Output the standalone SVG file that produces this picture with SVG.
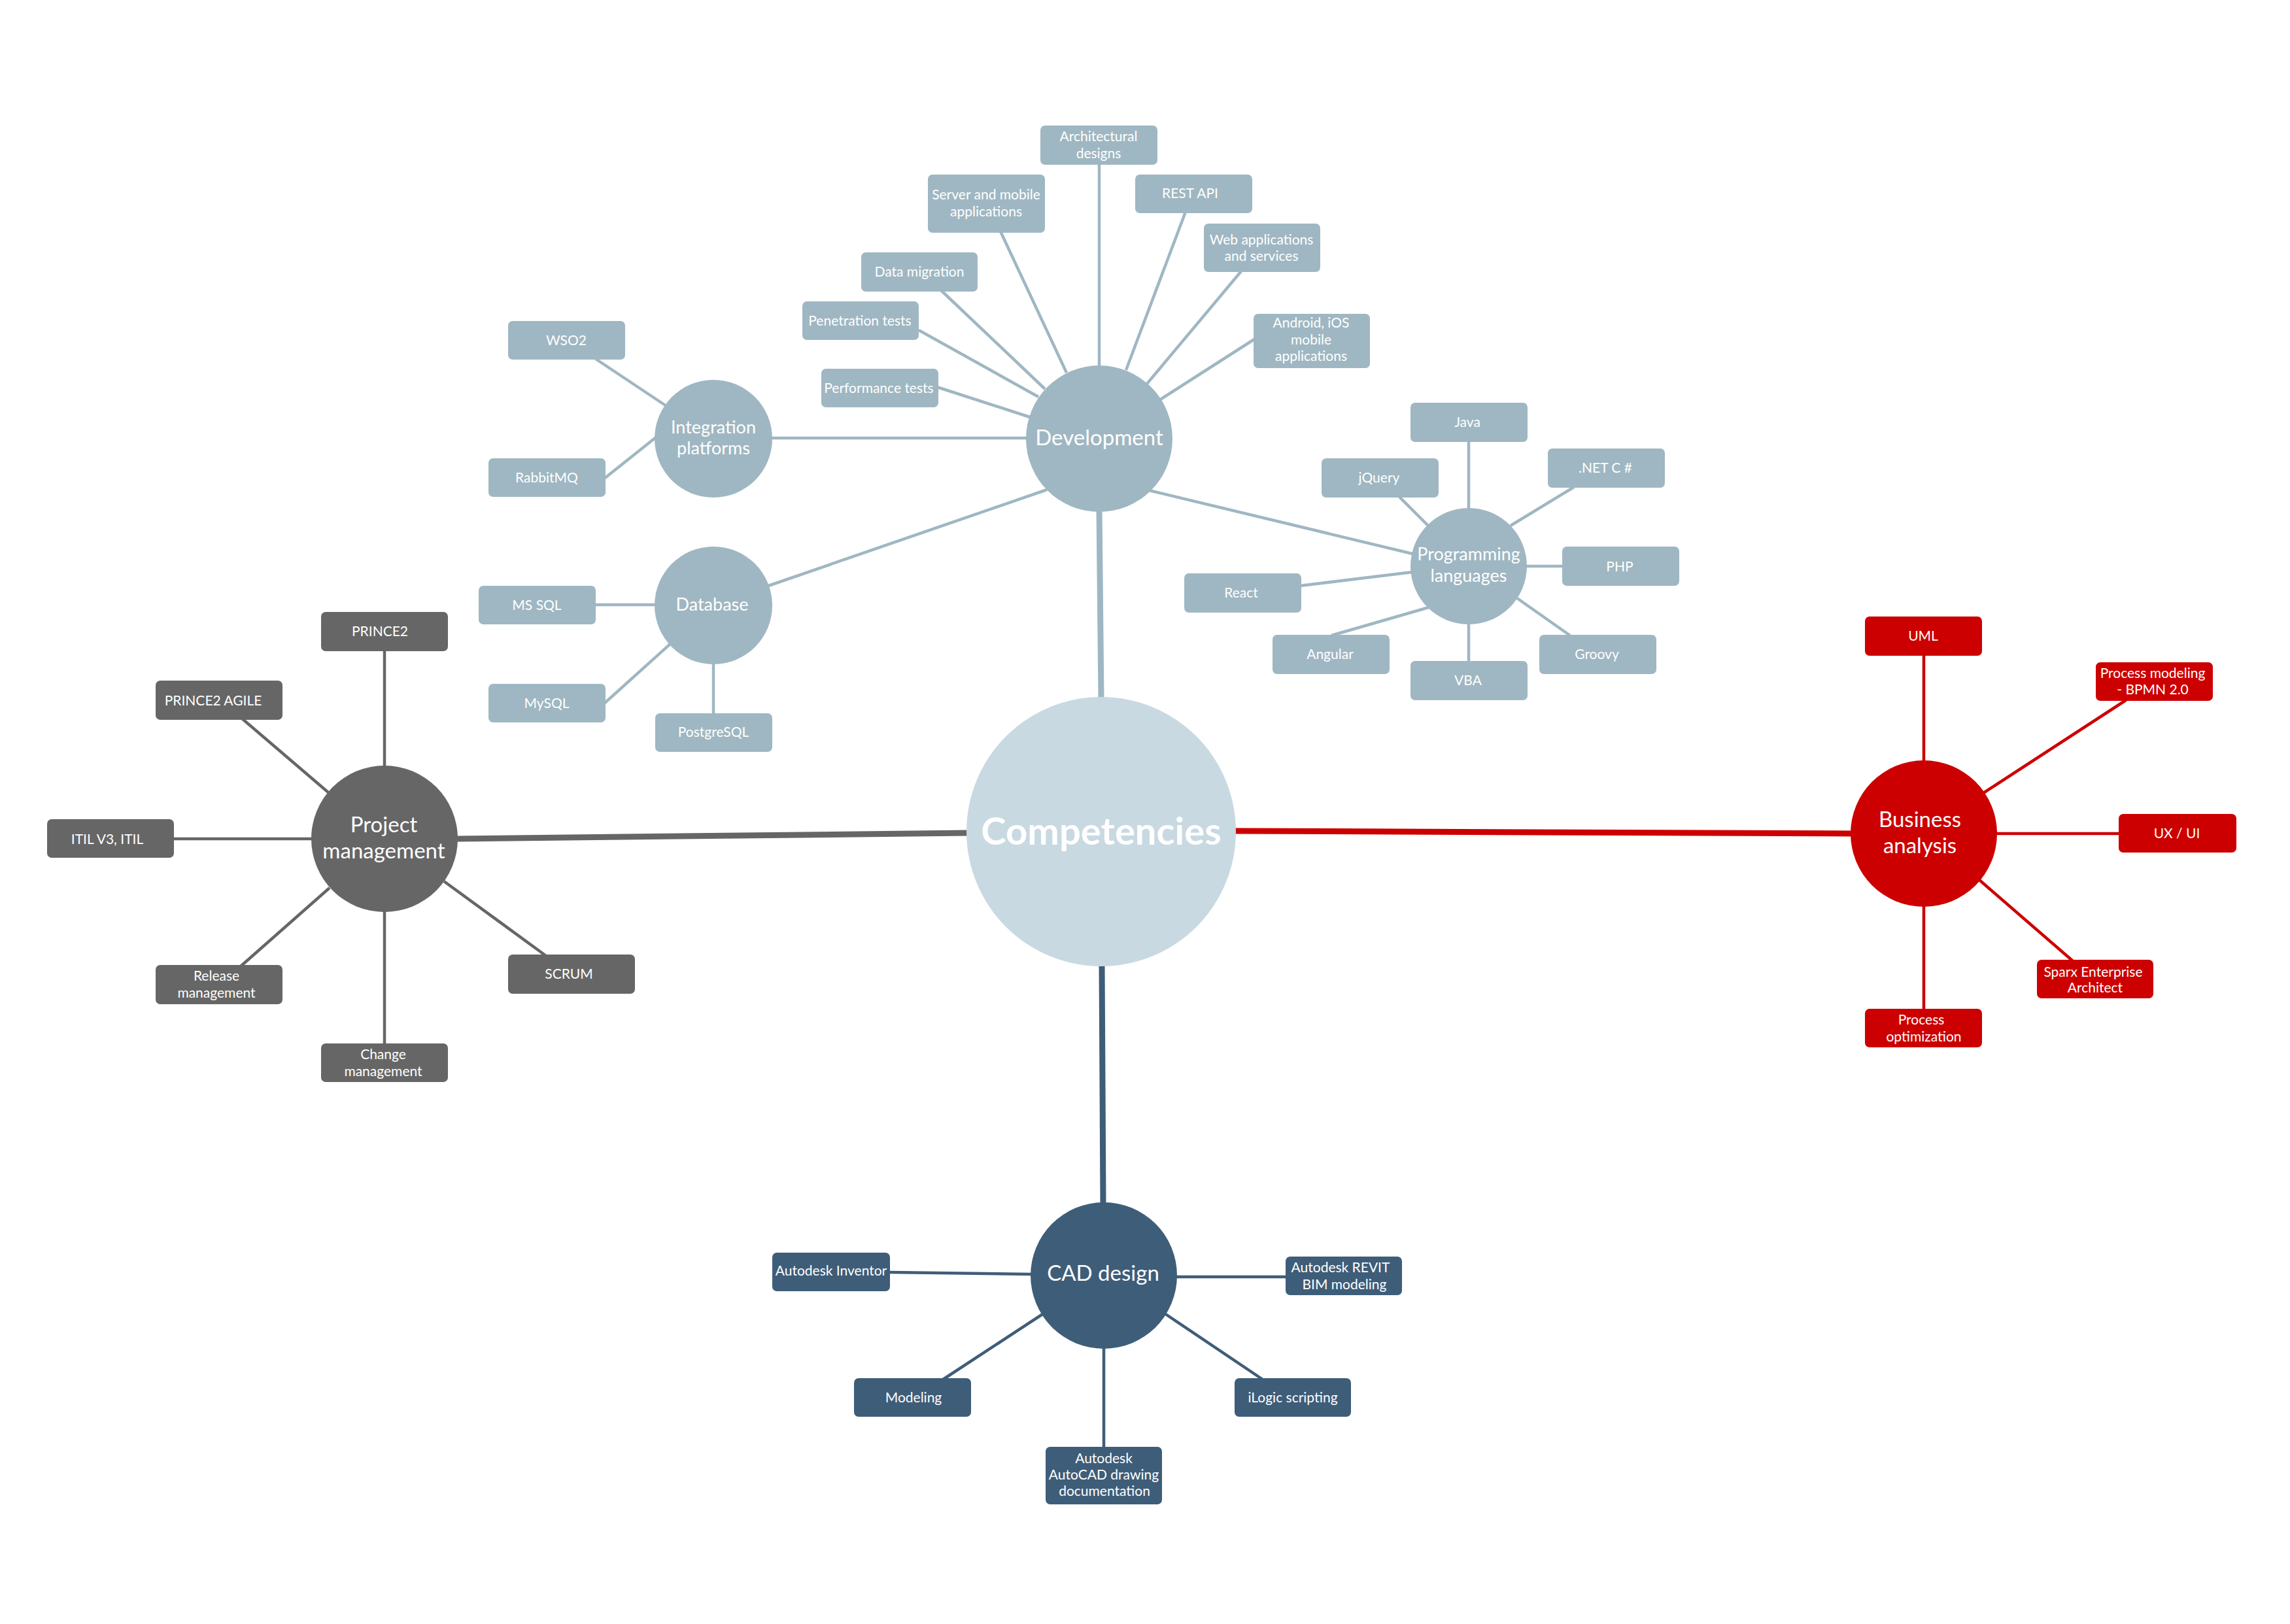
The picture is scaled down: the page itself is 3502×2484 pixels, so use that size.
<svg xmlns="http://www.w3.org/2000/svg" width="3502" height="2484" viewBox="0 0 3502 2484">
<style>
text{font-family:Lato,"Open Sans","Liberation Sans",sans-serif;fill:#fff;text-anchor:middle}
.s{font-size:21px}
.m{font-size:27px}
.l{font-size:33px}
.c{font-size:58px;font-weight:bold}
.lt{fill:#9fb7c2}
.gr{fill:#666666}
.rd{fill:#cc0000}
.bl{fill:#3e5d78}
.ce{fill:#c8d9e1}
line{stroke-linecap:butt}
.k1{stroke:#9fb7c2;stroke-width:4.5}
.k2{stroke:#666666;stroke-width:4.5}
.k3{stroke:#cc0000;stroke-width:4.5}
.k4{stroke:#3e5d78;stroke-width:4.5}
.main{stroke-width:9}
</style>
<rect width="3502" height="2484" fill="#ffffff"/>
<g id="connectors">
<line class="k1 main" x1="1681" y1="780" x2="1684" y2="1068"/>
<line class="k2 main" x1="1480" y1="1274" x2="698" y2="1283"/>
<line class="k3 main" x1="1888" y1="1271" x2="2833" y2="1275"/>
<line class="k4 main" x1="1685" y1="1475" x2="1687" y2="1842"/>
<line class="k1" x1="1681" y1="250" x2="1681" y2="562"/>
<line class="k1" x1="1530" y1="354" x2="1631" y2="570"/>
<line class="k1" x1="1813" y1="324" x2="1722" y2="566"/>
<line class="k1" x1="1898" y1="415" x2="1754" y2="587"/>
<line class="k1" x1="1439" y1="444" x2="1598" y2="595"/>
<line class="k1" x1="1405" y1="505" x2="1588" y2="607"/>
<line class="k1" x1="1433" y1="592" x2="1575" y2="638"/>
<line class="k1" x1="1918" y1="519" x2="1773" y2="612"/>
<line class="k1" x1="1179" y1="670" x2="1571" y2="670"/>
<line class="k1" x1="1175" y1="896" x2="1601" y2="749"/>
<line class="k1" x1="1757" y1="750" x2="2160" y2="847"/>
<line class="k1" x1="911" y1="549" x2="1019" y2="621"/>
<line class="k1" x1="924" y1="732" x2="1003" y2="669"/>
<line class="k1" x1="909" y1="925" x2="1004" y2="925"/>
<line class="k1" x1="924" y1="1076" x2="1026" y2="984"/>
<line class="k1" x1="1091" y1="1014" x2="1091" y2="1093"/>
<line class="k1" x1="2246" y1="674" x2="2246" y2="779"/>
<line class="k1" x1="2140" y1="760" x2="2184" y2="804"/>
<line class="k1" x1="2407" y1="745" x2="2310" y2="804"/>
<line class="k1" x1="2333" y1="866" x2="2391" y2="866"/>
<line class="k1" x1="1988" y1="896" x2="2160" y2="875"/>
<line class="k1" x1="2036" y1="972" x2="2185" y2="929"/>
<line class="k1" x1="2246" y1="953" x2="2246" y2="1013"/>
<line class="k1" x1="2401" y1="972" x2="2320" y2="915"/>
<line class="k2" x1="588" y1="994" x2="588" y2="1173"/>
<line class="k2" x1="370" y1="1099" x2="502" y2="1212"/>
<line class="k2" x1="264" y1="1283" x2="478" y2="1283"/>
<line class="k2" x1="368" y1="1478" x2="504" y2="1358"/>
<line class="k2" x1="588" y1="1393" x2="588" y2="1598"/>
<line class="k2" x1="835" y1="1462" x2="679" y2="1348"/>
<line class="k3" x1="2942" y1="1001" x2="2942" y2="1166"/>
<line class="k3" x1="3251" y1="1071" x2="3033" y2="1213"/>
<line class="k3" x1="3052" y1="1275" x2="3242" y2="1275"/>
<line class="k3" x1="3170" y1="1470" x2="3027" y2="1346"/>
<line class="k3" x1="2942" y1="1384" x2="2942" y2="1545"/>
<line class="k4" x1="1359" y1="1946" x2="1579" y2="1949"/>
<line class="k4" x1="1797" y1="1953" x2="1968" y2="1953"/>
<line class="k4" x1="1442" y1="2110" x2="1596" y2="2009"/>
<line class="k4" x1="1931" y1="2110" x2="1781" y2="2009"/>
<line class="k4" x1="1688" y1="2061" x2="1688" y2="2215"/>
</g>
<g id="competencies"><circle class="ce" cx="1684" cy="1272" r="206"/><text class="c" x="1684" y="1292">Competencies</text></g>
<g id="development"><circle class="lt" cx="1681" cy="671" r="112"/><text class="l" x="1681" y="681">Development</text></g>
<g id="architectural-designs"><rect class="lt" x="1591" y="192" width="179" height="60" rx="7"/><text class="s" x="1680" y="216">Architectural</text><text class="s" x="1680" y="242">designs</text></g>
<g id="server-mobile"><rect class="lt" x="1419" y="267" width="179" height="89" rx="7"/><text class="s" x="1508" y="305">Server and mobile</text><text class="s" x="1508" y="331">applications</text></g>
<g id="rest-api"><rect class="lt" x="1736" y="267" width="179" height="59" rx="7"/><text class="s" x="1820" y="303">REST API</text></g>
<g id="web-applications"><rect class="lt" x="1841" y="342" width="178" height="74" rx="7"/><text class="s" x="1929" y="374">Web applications</text><text class="s" x="1929" y="399">and services</text></g>
<g id="data-migration"><rect class="lt" x="1317" y="386" width="178" height="60" rx="7"/><text class="s" x="1406" y="423">Data migration</text></g>
<g id="penetration-tests"><rect class="lt" x="1227" y="461" width="178" height="59" rx="7"/><text class="s" x="1315" y="498">Penetration tests</text></g>
<g id="performance-tests"><rect class="lt" x="1256" y="564" width="179" height="59" rx="7"/><text class="s" x="1344" y="601">Performance tests</text></g>
<g id="android-ios"><rect class="lt" x="1917" y="480" width="178" height="83" rx="7"/><text class="s" x="2005" y="501">Android, iOS</text><text class="s" x="2005" y="527">mobile</text><text class="s" x="2005" y="552">applications</text></g>
<g id="integration-platforms"><circle class="lt" cx="1091" cy="671" r="90"/><text class="m" x="1091" y="663">Integration</text><text class="m" x="1091" y="695">platforms</text></g>
<g id="wso2"><rect class="lt" x="777" y="491" width="179" height="59" rx="7"/><text class="s" x="866" y="528">WSO2</text></g>
<g id="rabbitmq"><rect class="lt" x="747" y="701" width="179" height="59" rx="7"/><text class="s" x="836" y="738">RabbitMQ</text></g>
<g id="database"><circle class="lt" cx="1091" cy="926" r="90"/><text class="m" x="1089" y="934">Database</text></g>
<g id="ms-sql"><rect class="lt" x="732" y="896" width="179" height="59" rx="7"/><text class="s" x="821" y="933">MS SQL</text></g>
<g id="mysql"><rect class="lt" x="747" y="1046" width="179" height="59" rx="7"/><text class="s" x="836" y="1083">MySQL</text></g>
<g id="postgresql"><rect class="lt" x="1002" y="1091" width="179" height="59" rx="7"/><text class="s" x="1091" y="1127">PostgreSQL</text></g>
<g id="programming-languages"><circle class="lt" cx="2246" cy="866" r="89"/><text class="m" x="2246" y="857">Programming</text><text class="m" x="2246" y="890">languages</text></g>
<g id="java"><rect class="lt" x="2157" y="616" width="179" height="60" rx="7"/><text class="s" x="2244" y="653">Java</text></g>
<g id="jquery"><rect class="lt" x="2021" y="701" width="179" height="60" rx="7"/><text class="s" x="2109" y="738">jQuery</text></g>
<g id="dotnet"><rect class="lt" x="2367" y="686" width="179" height="60" rx="7"/><text class="s" x="2455" y="723">.NET C #</text></g>
<g id="php"><rect class="lt" x="2389" y="836" width="179" height="60" rx="7"/><text class="s" x="2477" y="874">PHP</text></g>
<g id="react"><rect class="lt" x="1811" y="877" width="179" height="60" rx="7"/><text class="s" x="1898" y="914">React</text></g>
<g id="angular"><rect class="lt" x="1946" y="971" width="179" height="60" rx="7"/><text class="s" x="2034" y="1008">Angular</text></g>
<g id="vba"><rect class="lt" x="2157" y="1011" width="179" height="60" rx="7"/><text class="s" x="2245" y="1048">VBA</text></g>
<g id="groovy"><rect class="lt" x="2354" y="971" width="179" height="60" rx="7"/><text class="s" x="2442" y="1008">Groovy</text></g>
<g id="project-management"><circle class="gr" cx="588" cy="1283" r="112"/><text class="l" x="587" y="1273">Project</text><text class="l" x="587" y="1313">management</text></g>
<g id="prince2"><rect class="gr" x="491" y="936" width="194" height="60" rx="7"/><text class="s" x="581" y="973">PRINCE2</text></g>
<g id="prince2-agile"><rect class="gr" x="238" y="1041" width="194" height="60" rx="7"/><text class="s" x="326" y="1079">PRINCE2 AGILE</text></g>
<g id="itil"><rect class="gr" x="72" y="1253" width="194" height="59" rx="7"/><text class="s" x="164" y="1291">ITIL V3, ITIL</text></g>
<g id="release-management"><rect class="gr" x="238" y="1476" width="194" height="60" rx="7"/><text class="s" x="331" y="1500">Release</text><text class="s" x="331" y="1526">management</text></g>
<g id="change-management"><rect class="gr" x="491" y="1596" width="194" height="59" rx="7"/><text class="s" x="586" y="1620">Change</text><text class="s" x="586" y="1646">management</text></g>
<g id="scrum"><rect class="gr" x="777" y="1460" width="194" height="60" rx="7"/><text class="s" x="870" y="1497">SCRUM</text></g>
<g id="business-analysis"><circle class="rd" cx="2942" cy="1275" r="112"/><text class="l" x="2936" y="1265">Business</text><text class="l" x="2936" y="1305">analysis</text></g>
<g id="uml"><rect class="rd" x="2852" y="943" width="179" height="60" rx="7"/><text class="s" x="2941" y="980">UML</text></g>
<g id="process-modeling"><rect class="rd" x="3205" y="1013" width="179" height="59" rx="7"/><text class="s" x="3292" y="1037">Process modeling</text><text class="s" x="3292" y="1062">- BPMN 2.0</text></g>
<g id="ux-ui"><rect class="rd" x="3240" y="1245" width="180" height="59" rx="7"/><text class="s" x="3329" y="1282">UX / UI</text></g>
<g id="sparx"><rect class="rd" x="3115" y="1468" width="178" height="59" rx="7"/><text class="s" x="3201" y="1494">Sparx Enterprise</text><text class="s" x="3204" y="1518">Architect</text></g>
<g id="process-optimization"><rect class="rd" x="2852" y="1543" width="179" height="59" rx="7"/><text class="s" x="2938" y="1567">Process</text><text class="s" x="2942" y="1593">optimization</text></g>
<g id="cad-design"><circle class="bl" cx="1688" cy="1951" r="112"/><text class="l" x="1687" y="1959">CAD design</text></g>
<g id="autodesk-inventor"><rect class="bl" x="1181" y="1916" width="180" height="59" rx="7"/><text class="s" x="1271" y="1951">Autodesk Inventor</text></g>
<g id="autodesk-revit"><rect class="bl" x="1966" y="1922" width="178" height="59" rx="7"/><text class="s" x="2050" y="1946">Autodesk REVIT</text><text class="s" x="2056" y="1972">BIM modeling</text></g>
<g id="modeling"><rect class="bl" x="1306" y="2108" width="179" height="59" rx="7"/><text class="s" x="1397" y="2145">Modeling</text></g>
<g id="ilogic"><rect class="bl" x="1888" y="2108" width="178" height="59" rx="7"/><text class="s" x="1977" y="2145">iLogic scripting</text></g>
<g id="autocad"><rect class="bl" x="1599" y="2213" width="178" height="88" rx="7"/><text class="s" x="1688" y="2238">Autodesk</text><text class="s" x="1688" y="2263">AutoCAD drawing</text><text class="s" x="1689" y="2288">documentation</text></g>
</svg>
